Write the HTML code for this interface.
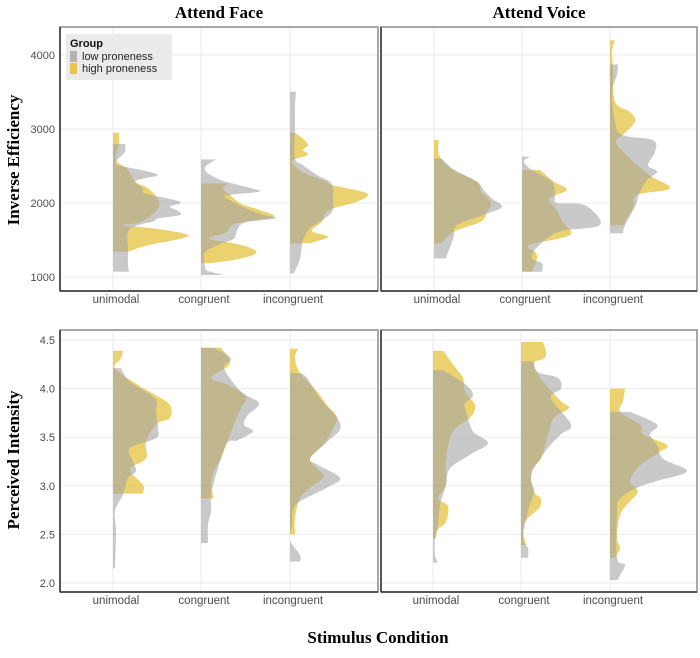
<!DOCTYPE html>
<html><head><meta charset="utf-8"><style>
body{margin:0;background:#fff}
svg text{font-family:"Liberation Sans",sans-serif}
.t{font-family:"Liberation Serif",serif;font-weight:bold}
</style></head><body>
<svg id="c" width="700" height="653" xmlns="http://www.w3.org/2000/svg">
<text class="t" x="219" y="18" font-size="17" text-anchor="middle">Attend Face</text>
<text class="t" x="539" y="18" font-size="17" text-anchor="middle">Attend Voice</text>
<text class="t" transform="translate(19,160) rotate(-90)" font-size="17" text-anchor="middle">Inverse Efficiency</text>
<text class="t" transform="translate(19,460) rotate(-90)" font-size="17" text-anchor="middle">Perceived Intensity</text>
<text class="t" x="378" y="643" font-size="17" text-anchor="middle">Stimulus Condition</text>
</svg>
<script>
const categories=["unimodal","congruent","incongruent"];
const topTicks=[1000,2000,3000,4000];
const botTicks=[2.0,2.5,3.0,3.5,4.0,4.5];
const botTickLabels=["2.0","2.5","3.0","3.5","4.0","4.5"];
// [value, density] pairs
const faceIEUniLow=[[2797,12],[2693,12],[2580,4],[2513,5],[2440,30],[2378,45],[2330,30],[2288,22],[2200,30],[2130,32],[2018,67],[1950,57],[1900,64],[1838,67],[1790,45],[1748,40],[1700,25],[1612,15],[1342,15],[1162,15],[1072,16]];
const faceIEUniHigh=[[2950,6],[2800,6],[2650,3],[2560,4],[2450,15],[2290,22],[2200,35],[2050,45],[1920,45],[1800,35],[1730,25],[1700,10],[1650,45],[1567,75],[1500,62],[1430,35],[1342,15]];
const faceIECongLow=[[2590,15],[2500,5],[2423,5],[2340,15],[2288,25],[2200,50],[2153,58],[2100,25],[2030,30],[1928,45],[1850,60],[1793,75],[1740,45],[1658,37],[1520,33],[1450,20],[1350,5],[1250,3],[1100,5],[1072,10],[1027,22]];
const faceIECongHigh=[[2265,28],[2200,22],[2100,30],[1990,40],[1900,60],[1815,73],[1750,45],[1702,31],[1600,25],[1520,8],[1450,35],[1390,50],[1320,55],[1250,40],[1185,10]];
const faceIEIncLow=[[3504,6],[3300,5],[2950,5],[2603,5],[2510,13],[2378,27],[2288,40],[2200,43],[2050,43],[1880,42],[1750,30],[1660,20],[1500,13],[1250,10],[1050,4]];
const faceIEIncHigh=[[2950,5],[2870,13],[2783,18],[2720,13],[2650,18],[2580,3],[2500,5],[2400,15],[2300,35],[2243,42],[2130,77],[2018,67],[1928,43],[1850,35],[1748,32],[1620,22],[1545,38],[1455,20]];
const voiceIEUniLow=[[2600,8],[2450,20],[2288,43],[2170,50],[2060,58],[1950,68],[1840,50],[1700,23],[1560,20],[1432,17],[1300,13],[1252,12]];
const voiceIEUniHigh=[[2850,5],[2650,5],[2470,17],[2288,43],[2153,47],[2018,57],[1880,53],[1750,47],[1612,20],[1455,7]];
const voiceIECongLow=[[2626,8],[2560,2],[2446,10],[2288,30],[2100,33],[2000,35],[1970,63],[1703,78],[1612,37],[1400,15],[1252,10],[1185,20],[1072,20]];
const voiceIECongHigh=[[2446,18],[2288,32],[2176,45],[2060,27],[1900,35],[1750,40],[1567,48],[1432,7],[1340,13],[1252,15],[1072,10]];
const voiceIEIncLow=[[3874,8],[3730,7],[3504,2],[3100,5],[2920,12],[2850,43],[2690,45],[2510,38],[2423,47],[2310,37],[2150,30],[1950,25],[1700,15],[1590,13]];
const voiceIEIncHigh=[[4200,5],[4050,2],[3820,3],[3370,5],[3230,20],[3100,25],[2920,13],[2790,7],[2400,37],[2200,60],[2110,27],[1930,23],[1750,15],[1700,15]];
const faceINUniLow=[[4.21,8],[4.07,17],[3.90,42],[3.77,43],[3.59,45],[3.49,43],[3.39,17],[3.25,20],[3.15,23],[3.08,15],[2.91,10],[2.74,2],[2.53,3],[2.15,2]];
const faceINUniHigh=[[4.39,10],[4.31,8],[4.21,2],[4.05,23],[3.93,43],[3.83,57],[3.70,57],[3.63,43],[3.45,33],[3.28,33],[3.17,17],[3.01,30],[2.92,30]];
const faceINCongLow=[[4.42,13],[4.31,30],[4.21,23],[3.97,40],[3.85,58],[3.73,47],[3.63,43],[3.56,52],[3.47,37],[3.42,25],[3.0,12],[2.87,10],[2.73,10],[2.60,7],[2.41,7]];
const faceINCongHigh=[[4.42,20],[4.31,28],[4.23,27],[4.11,10],[4.04,27],[3.92,45],[3.80,40],[3.63,33],[3.42,25],[3.28,20],[3.15,13],[3.01,10],[2.87,13]];
const faceINIncLow=[[4.16,10],[4.11,17],[3.90,30],[3.70,47],[3.58,50],[3.46,38],[3.28,20],[3.22,27],[3.08,50],[2.98,37],[2.84,10],[2.74,3],[2.60,2],[2.44,0],[2.29,10],[2.22,10]];
const faceINIncHigh=[[4.41,8],[4.31,5],[4.16,10],[3.97,27],[3.83,37],[3.70,47],[3.53,40],[3.42,33],[3.28,20],[3.15,30],[3.08,33],[2.98,20],[2.87,10],[2.67,5],[2.50,5]];
const voiceINUniLow=[[4.19,10],[4.04,33],[3.93,40],[3.85,32],[3.77,33],[3.56,40],[3.44,55],[3.32,37],[3.18,17],[3.01,13],[2.80,7],[2.60,5],[2.46,2],[2.29,2],[2.21,5]];
const voiceINUniHigh=[[4.39,10],[4.21,23],[4.11,30],[3.97,32],[3.83,42],[3.70,37],[3.56,20],[3.28,13],[3.01,13],[2.87,5],[2.79,15],[2.63,13],[2.55,5],[2.46,3]];
const voiceINCongLow=[[4.28,12],[4.17,17],[4.11,37],[4.0,40],[3.90,30],[3.63,50],[3.53,40],[3.39,27],[3.18,13],[3.05,10],[2.94,13],[2.74,7],[2.46,2],[2.36,7],[2.26,7]];
const voiceINCongHigh=[[4.48,22],[4.38,25],[4.31,23],[4.26,13],[4.1,20],[3.87,40],[3.80,48],[3.70,33],[3.52,27],[3.28,20],[3.15,10],[2.94,13],[2.87,20],[2.77,18],[2.67,7],[2.56,2],[2.39,5]];
const voiceINIncLow=[[3.76,20],[3.63,47],[3.53,40],[3.42,47],[3.28,53],[3.15,77],[3.05,47],[2.98,27],[2.87,10],[2.74,7],[2.26,7],[2.19,15],[2.08,10],[2.03,8]];
const voiceINIncHigh=[[4.0,15],[3.87,13],[3.76,10],[3.63,30],[3.53,33],[3.42,57],[3.35,50],[3.21,30],[3.05,20],[2.94,28],[2.84,20],[2.70,10],[2.46,7],[2.36,10],[2.26,5]];

const NS="http://www.w3.org/2000/svg";
const svg=document.getElementById('c');
function mk(tag,attrs,parent){const e=document.createElementNS(NS,tag);for(const k in attrs)e.setAttribute(k,attrs[k]);(parent||svg).appendChild(e);return e;}
const panels=[
 {x0:60,x1:378,y0:27,y1:291,cx:[113,201,290],lo:1000,hi:4000,ylo:277,yhi:55,ticks:topTicks,labels:topTicks.map(String),low:[faceIEUniLow,faceIECongLow,faceIEIncLow],high:[faceIEUniHigh,faceIECongHigh,faceIEIncHigh],name:'face-ie',yl:true},
 {x0:381,x1:697,y0:27,y1:291,cx:[434,522,610],lo:1000,hi:4000,ylo:277,yhi:55,ticks:topTicks,labels:topTicks.map(String),low:[voiceIEUniLow,voiceIECongLow,voiceIEIncLow],high:[voiceIEUniHigh,voiceIECongHigh,voiceIEIncHigh],name:'voice-ie',yl:false},
 {x0:60,x1:378,y0:330,y1:592,cx:[113,201,290],lo:2.0,hi:4.5,ylo:583,yhi:340,ticks:botTicks,labels:botTickLabels,low:[faceINUniLow,faceINCongLow,faceINIncLow],high:[faceINUniHigh,faceINCongHigh,faceINIncHigh],name:'face-in',yl:true},
 {x0:381,x1:697,y0:330,y1:592,cx:[433,521,610],lo:2.0,hi:4.5,ylo:583,yhi:340,ticks:botTicks,labels:botTickLabels,low:[voiceINUniLow,voiceINCongLow,voiceINIncLow],high:[voiceINUniHigh,voiceINCongHigh,voiceINIncHigh],name:'voice-in',yl:false}
];
function smoothPath(pts){let d='';for(let i=0;i<pts.length;i++){const p=pts[i];if(i===0){d+='M'+p[0]+','+p[1];continue;}const p0=pts[i-2]||pts[i-1],p1=pts[i-1],p3=pts[i+1]||p;const c1=[p1[0]+(p[0]-p0[0])/6,p1[1]+(p[1]-p0[1])/6],c2=[p[0]-(p3[0]-p1[0])/6,p[1]-(p3[1]-p1[1])/6];d+=`C${c1[0].toFixed(1)},${c1[1].toFixed(1)} ${c2[0].toFixed(1)},${c2[1].toFixed(1)} ${p[0].toFixed(1)},${p[1].toFixed(1)}`;}return d;}
panels.forEach(P=>{
 const ys=v=>P.ylo+(v-P.lo)/(P.hi-P.lo)*(P.yhi-P.ylo);
 const g=mk('g',{});
 
 
 mk('rect',{x:P.x0,y:P.y0,width:P.x1-P.x0,height:P.y1-P.y0,fill:'#fff'},g);
 P.ticks.forEach((t,i)=>{const y=ys(t);
  const gl=mk('line',{x1:P.x0,x2:P.x1,y1:y,y2:y,stroke:'#ebebeb','stroke-width':1},g);
  
  
  if(P.yl){const tx=mk('text',{x:P.x0-5,y:y+4,'font-size':11,fill:'#4d4d4d','text-anchor':'end'},g);tx.textContent=P.labels[i];
   
   }
 });
 P.cx.forEach((x,i)=>{
  const gl=mk('line',{x1:x,x2:x,y1:P.y0,y2:P.y1,stroke:'#ebebeb','stroke-width':1},g);
  
  
  const tx=mk('text',{x:x+3,y:P.y1+12,'font-size':11.5,fill:'#4d4d4d','text-anchor':'middle'},g);tx.textContent=categories[i];
  
  
 });
 [['high','rgba(228,190,50,0.7)'],['low','rgba(165,165,165,0.6)']].forEach(([grp,col])=>{
  P[grp].forEach((arr,i)=>{
   const x=P.cx[i];
   const pts=arr.map(p=>[x+p[1],ys(p[0])]);
   let d='M'+x+','+ys(arr[0][0])+' L'+pts[0][0]+','+pts[0][1]+smoothPath(pts).replace(/^M[^C]*/,'')+' L'+x+','+ys(arr[arr.length-1][0])+'Z';
   const el=mk('path',{d:d,fill:col},g);
   
   
  });
 });
 mk('rect',{x:P.x0,y:P.y0,width:P.x1-P.x0,height:P.y1-P.y0,fill:'none',stroke:'#8a8a8a','stroke-width':1.5},g);
 mk('line',{x1:P.x0,x2:P.x1,y1:P.y1,y2:P.y1,stroke:'#333','stroke-width':1.5},g);
 mk('line',{x1:P.x0,x2:P.x0,y1:P.y0,y2:P.y1,stroke:'#333','stroke-width':1.5},g);
});
// legend
const lg=mk('g',{});


mk('rect',{x:66,y:34,width:106,height:46,fill:'#ebebeb'},lg);
const lt=mk('text',{x:70,y:47,'font-size':11,'font-weight':'bold',fill:'#111'},lg);lt.textContent='Group';


[['low proneness','rgba(165,165,165,0.8)',60],['high proneness','rgba(228,190,50,0.85)',72]].forEach(([t,c,y])=>{
 const sw=mk('rect',{x:70,y:y-9,width:7,height:11,fill:c},lg);
 
 
 const tx=mk('text',{x:82,y:y,'font-size':11,fill:'#222'},lg);tx.textContent=t;
 
 
});
</script>
</body></html>
